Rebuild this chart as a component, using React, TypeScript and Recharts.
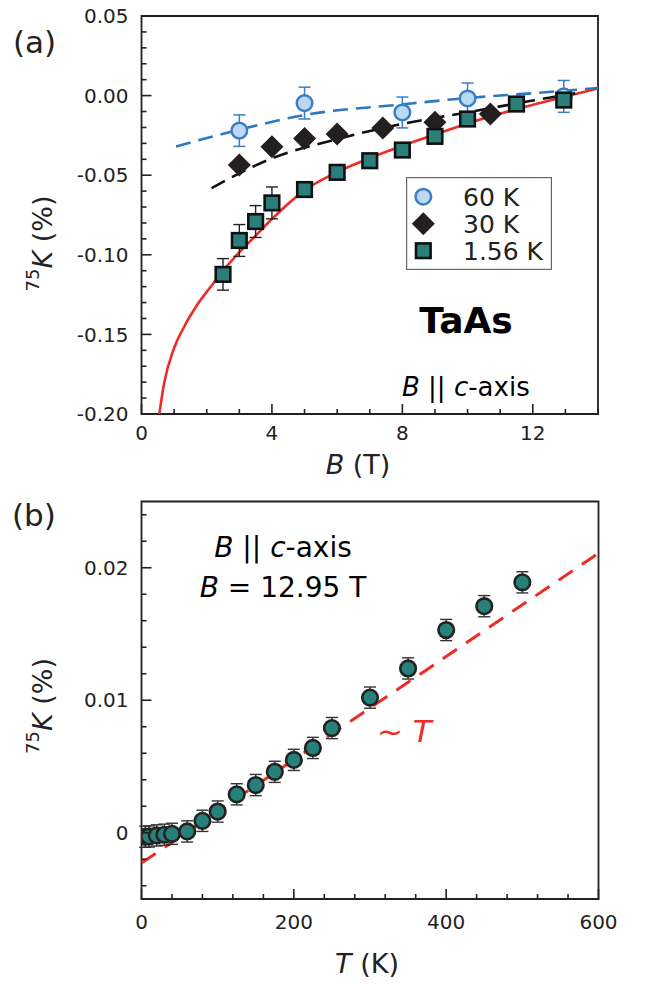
import React from 'react';
import {
  ComposedChart,
  Scatter,
  Line,
  XAxis,
  YAxis,
  ErrorBar,
  ReferenceArea,
  Customized,
  Legend,
} from 'recharts';

const FONT = '"DejaVu Sans", "Liberation Sans", Arial, sans-serif';
const INK = '#222';

// ---------- Panel (a): 75K vs B ----------
const aB60 = [3, 5, 8, 10, 12.95];
const aK60 = [-0.022, -0.0047, -0.0106, -0.0018, -0.0005];
const aE60 = [0.0099, 0.01, 0.0097, 0.0097, 0.01];

const aB30 = [3, 4, 5, 6, 7.4, 9, 10.7];
const aK30 = [-0.0436, -0.0321, -0.0269, -0.0241, -0.0204, -0.0168, -0.0116];

const aB156 = [2.5, 3, 3.5, 4, 5, 6, 7, 8, 9, 10, 11.5, 12.95];
const aK156 = [-0.1123, -0.091, -0.0791, -0.0674, -0.059, -0.0482, -0.0409, -0.0342, -0.0256, -0.0147, -0.0053, -0.0028];
const aE156 = [0.0099, 0.01, 0.01, 0.01, 0, 0, 0, 0, 0, 0, 0, 0];

const aFit60B = [1.06, 3, 5, 8, 10, 12, 14];
const aFit60K = [-0.0319, -0.0214, -0.0122, -0.0055, -0.0015, 0.0015, 0.0048];
const aFit30B = [2.15, 4, 6, 8, 10, 12, 13.3];
const aFit30K = [-0.0581, -0.0394, -0.0273, -0.0178, -0.0105, -0.0031, 0.0015];
const aFit156B = [0.545, 0.7, 0.975, 1.3, 1.69, 2.2, 2.5, 3, 3.5, 4, 5, 6, 7, 8, 9, 10, 11.5, 13, 14];
const aFit156K = [-0.2, -0.18, -0.16, -0.1455, -0.132, -0.118, -0.11, -0.0985, -0.088, -0.0775, -0.0595, -0.048, -0.0393, -0.0315, -0.0245, -0.0175, -0.0085, -0.0005, 0.0045];

const aXTicks = [0, 1, 2, 3, 4, 5, 6, 7, 8, 9, 10, 11, 12, 13, 14];
const aXMajor = [0, 4, 8, 12];
const aXLabels = ['0', '4', '8', '12'];
const aYTicks = [0.05, 0.04, 0.03, 0.02, 0.01, 0, -0.01, -0.02, -0.03, -0.04, -0.05, -0.06, -0.07, -0.08, -0.09, -0.1, -0.11, -0.12, -0.13, -0.14, -0.15, -0.16, -0.17, -0.18, -0.19, -0.2];
const aYMajor = [0.05, 0, -0.05, -0.1, -0.15, -0.2];
const aYLabels = ['0.05', '0.00', '-0.05', '-0.10', '-0.15', '-0.20'];

// ---------- Panel (b): 75K vs T ----------
const bT = [5, 10, 20, 30, 40, 60, 80, 100, 125, 150, 175, 200, 225, 250, 300, 350, 400, 450, 500];
const bK = [-0.0003, -0.00028, -0.0002, -0.00015, -0.00008, 0.0001, 0.0009, 0.0016, 0.0029, 0.0036, 0.0046, 0.0055, 0.0064, 0.0079, 0.0102, 0.0124, 0.0153, 0.0171, 0.0189];
const bE = [0.0008, 0.0008, 0.0008, 0.0008, 0.0008, 0.0008, 0.0008, 0.0008, 0.0008, 0.0008, 0.0008, 0.0008, 0.0008, 0.0008, 0.0008, 0.0008, 0.0008, 0.0008, 0.0008];
const bFitT = [0, 600];
const bFitK = [-0.00228, 0.0211];

const bXTicks = [0, 40, 80, 120, 160, 200, 240, 280, 320, 360, 400, 440, 480, 520, 560, 600];
const bXMajor = [0, 200, 400, 600];
const bXLabels = ['0', '200', '400', '600'];
const bYTicks = [-0.004, -0.002, 0, 0.002, 0.004, 0.006, 0.008, 0.01, 0.012, 0.014, 0.016, 0.018, 0.02, 0.022, 0.024];
const bYMajor = [0, 0.01, 0.02];
const bYLabels = ['0', '0.01', '0.02'];

const zip = (xs: number[], ys: number[], es?: number[]) =>
  xs.map((x, i) => ({ x, y: ys[i], e: es ? es[i] : 0 }));

const a60 = zip(aB60, aK60, aE60);
const a30 = zip(aB30, aK30);
const a156 = zip(aB156, aK156, aE156);
const fit60 = zip(aFit60B, aFit60K);
const fit30 = zip(aFit30B, aFit30K);
const fit156 = zip(aFit156B, aFit156K);
const bData = zip(bT, bK, bE);
const bFit = zip(bFitT, bFitK);

const majorIndex = (majors: number[], v: number) =>
  majors.findIndex((m) => Math.abs(m - v) < 1e-9);

const makeXTick = (majors: number[], labels: string[], labelOffset: number) => (props: any) => {
  const { x, y, payload } = props;
  const idx = majorIndex(majors, payload.value);
  const len = idx >= 0 ? 10 : 5;
  return (
    <g>
      <line x1={x} x2={x} y1={y} y2={y - len} stroke={INK} strokeWidth={1.6} />
      {idx >= 0 && (
        <text x={x} y={y + labelOffset} dy="0.36em" textAnchor="middle" fontSize={20} fontFamily={FONT} fill={INK}>
          {labels[idx]}
        </text>
      )}
    </g>
  );
};

const makeYTick = (majors: number[], labels: string[]) => (props: any) => {
  const { x, y, payload } = props;
  const idx = majorIndex(majors, payload.value);
  const len = idx >= 0 ? 10 : 5;
  return (
    <g>
      <line x1={x} x2={x + len} y1={y} y2={y} stroke={INK} strokeWidth={1.6} />
      {idx >= 0 && (
        <text x={x - 13} y={y} dy="0.36em" textAnchor="end" fontSize={20} fontFamily={FONT} fill={INK}>
          {labels[idx]}
        </text>
      )}
    </g>
  );
};

const circleA = (p: any) => (
  <circle cx={p.cx} cy={p.cy} r={7.8} fill="#bcd8f2" stroke="#3a7ec6" strokeWidth={2.5} />
);
const diamond = (p: any) => (
  <polygon
    points={`${p.cx},${p.cy - 11.5} ${p.cx + 11.5},${p.cy} ${p.cx},${p.cy + 11.5} ${p.cx - 11.5},${p.cy}`}
    fill="#231f20"
  />
);
const square = (p: any) => (
  <rect x={p.cx - 7.3} y={p.cy - 7.3} width={14.6} height={14.6} fill="#2b7f7a" stroke="#111" strokeWidth={2.6} />
);
const circleB = (p: any) => (
  <circle cx={p.cx} cy={p.cy} r={7.8} fill="#28807b" stroke="#222" strokeWidth={2.6} />
);

const YTitle = ({ cx, cy }: { cx: number; cy: number }) => (
  <text transform={`translate(${cx},${cy}) rotate(-90)`} textAnchor="middle" fontSize={27} fontFamily={FONT} fill={INK}>
    <tspan fontSize={18} dy={-13}>75</tspan>
    <tspan fontStyle="italic" dy={13}>K</tspan>
    <tspan>{' (%)'}</tspan>
  </text>
);

const AnnotA = () => (
  <g>
    <text x={13} y={53} fontSize={31} fontFamily={FONT} fill={INK}>(a)</text>
    <YTitle cx={52} cy={243.5} />
    <text x={358} y={474} textAnchor="middle" fontSize={27} fontFamily={FONT} fill={INK}>
      <tspan fontStyle="italic">B</tspan>
      <tspan>{' (T)'}</tspan>
    </text>
    <text x={466} y={333} textAnchor="middle" fontSize={36} fontWeight="bold" fontFamily={FONT} fill="#000">TaAs</text>
    <text x={402} y={396} fontSize={26} fontFamily={FONT} fill="#000">
      <tspan fontStyle="italic">B</tspan>
      <tspan>{' || '}</tspan>
      <tspan fontStyle="italic">c</tspan>
      <tspan>-axis</tspan>
    </text>
  </g>
);

const AnnotB = () => (
  <g>
    <text x={12} y={46} fontSize={31} fontFamily={FONT} fill={INK}>(b)</text>
    <YTitle cx={52} cy={226} />
    <text x={367} y={493} textAnchor="middle" fontSize={27} fontFamily={FONT} fill={INK}>
      <tspan fontStyle="italic">T</tspan>
      <tspan>{' (K)'}</tspan>
    </text>
    <text x={283} y={77} textAnchor="middle" fontSize={28} fontFamily={FONT} fill="#000">
      <tspan fontStyle="italic">B</tspan>
      <tspan>{' || '}</tspan>
      <tspan fontStyle="italic">c</tspan>
      <tspan>-axis</tspan>
    </text>
    <text x={283} y={117} textAnchor="middle" fontSize={28} fontFamily={FONT} fill="#000">
      <tspan fontStyle="italic">B</tspan>
      <tspan>{' = 12.95 T'}</tspan>
    </text>
    <text x={377} y={262} fontSize={31} fontFamily={FONT} fill="#ee2b25">
      <tspan>{'~ '}</tspan>
      <tspan fontStyle="italic">T</tspan>
    </text>
  </g>
);

const legendItems = [
  { label: '60 K', shape: 'circle' },
  { label: '30 K', shape: 'diamond' },
  { label: '1.56 K', shape: 'square' },
];

const LegendBox = () => (
  <svg width={146} height={93} style={{ display: 'block' }}>
    <rect x={0.6} y={0.6} width={144.8} height={91.8} fill="#fff" stroke="#666" strokeWidth={1.2} />
    {legendItems.map((it, i) => {
      const cy = 19.7 + i * 27;
      const cx = 17.3;
      return (
        <g key={it.label}>
          {it.shape === 'circle' && circleA({ cx, cy })}
          {it.shape === 'diamond' && diamond({ cx, cy })}
          {it.shape === 'square' && square({ cx, cy })}
          <text x={57} y={cy} dy="0.36em" fontSize={25} fontFamily={FONT} fill={INK}>{it.label}</text>
        </g>
      );
    })}
  </svg>
);

export default function App() {
  return (
    <div style={{ position: 'absolute', left: 0, top: 0, width: 651, height: 984, background: '#fff' }}>
      <div style={{ position: 'absolute', left: 0, top: 0 }}>
        <ComposedChart width={651} height={480} margin={{ top: 16, right: 53, bottom: 36, left: 0 }}>
          <XAxis
            type="number"
            dataKey="x"
            domain={[0, 14]}
            allowDataOverflow
            ticks={aXTicks}
            interval={0}
            axisLine={false}
            tickLine={false}
            tickSize={0}
            tickMargin={0}
            height={30}
            tick={makeXTick(aXMajor, aXLabels, 19)}
          />
          <YAxis
            type="number"
            dataKey="y"
            domain={[-0.2, 0.05]}
            allowDataOverflow
            ticks={aYTicks}
            interval={0}
            axisLine={false}
            tickLine={false}
            tickSize={0}
            tickMargin={0}
            width={141.5}
            tick={makeYTick(aYMajor, aYLabels)}
          />
          <Line data={fit156} dataKey="y" type="monotone" stroke="#ee2b25" strokeWidth={2.6} dot={false} activeDot={false} isAnimationActive={false} />
          <Scatter data={a60} dataKey="y" shape={circleA} isAnimationActive={false}>
            <ErrorBar dataKey="e" direction="y" width={6} stroke="#3a7ec6" strokeWidth={1.5} />
          </Scatter>
          <Scatter data={a30} dataKey="y" shape={diamond} isAnimationActive={false} />
          <Line data={fit60} dataKey="y" type="monotone" stroke="#2f77c2" strokeWidth={2.6} strokeDasharray="15 8" dot={false} activeDot={false} isAnimationActive={false} />
          <Line data={fit30} dataKey="y" type="monotone" stroke="#111" strokeWidth={2.6} strokeDasharray="15 8" dot={false} activeDot={false} isAnimationActive={false} />
          <Scatter data={a156} dataKey="y" shape={square} isAnimationActive={false}>
            <ErrorBar dataKey="e" direction="y" width={6} stroke="#222" strokeWidth={1.4} />
          </Scatter>
          <ReferenceArea x1={0} x2={14} y1={-0.2} y2={0.05} fill="none" stroke={INK} strokeWidth={1.8} />
          <Legend
            layout="vertical"
            align="center"
            verticalAlign="middle"
            wrapperStyle={{ position: 'absolute', left: 406, top: 177, width: 146, height: 93 }}
            content={() => <LegendBox />}
          />
          <Customized component={AnnotA} />
        </ComposedChart>
      </div>
      <div style={{ position: 'absolute', left: 0, top: 480 }}>
        <ComposedChart width={651} height={504} margin={{ top: 21.5, right: 52.5, bottom: 55, left: 0 }}>
          <XAxis
            type="number"
            dataKey="x"
            domain={[0, 600]}
            allowDataOverflow
            ticks={bXTicks}
            interval={0}
            axisLine={false}
            tickLine={false}
            tickSize={0}
            tickMargin={0}
            height={30}
            tick={makeXTick(bXMajor, bXLabels, 23)}
          />
          <YAxis
            type="number"
            dataKey="y"
            domain={[-0.005, 0.025]}
            allowDataOverflow
            ticks={bYTicks}
            interval={0}
            axisLine={false}
            tickLine={false}
            tickSize={0}
            tickMargin={0}
            width={141.5}
            tick={makeYTick(bYMajor, bYLabels)}
          />
          <Line data={bFit} dataKey="y" type="linear" stroke="#ee2b25" strokeWidth={3} strokeDasharray="17 11" dot={false} activeDot={false} isAnimationActive={false} />
          <Scatter data={bData} dataKey="y" shape={circleB} isAnimationActive={false}>
            <ErrorBar dataKey="e" direction="y" width={6} stroke="#333" strokeWidth={1.4} />
          </Scatter>
          <ReferenceArea x1={0} x2={600} y1={-0.005} y2={0.025} fill="none" stroke={INK} strokeWidth={1.8} />
          <Customized component={AnnotB} />
        </ComposedChart>
      </div>
    </div>
  );
}
